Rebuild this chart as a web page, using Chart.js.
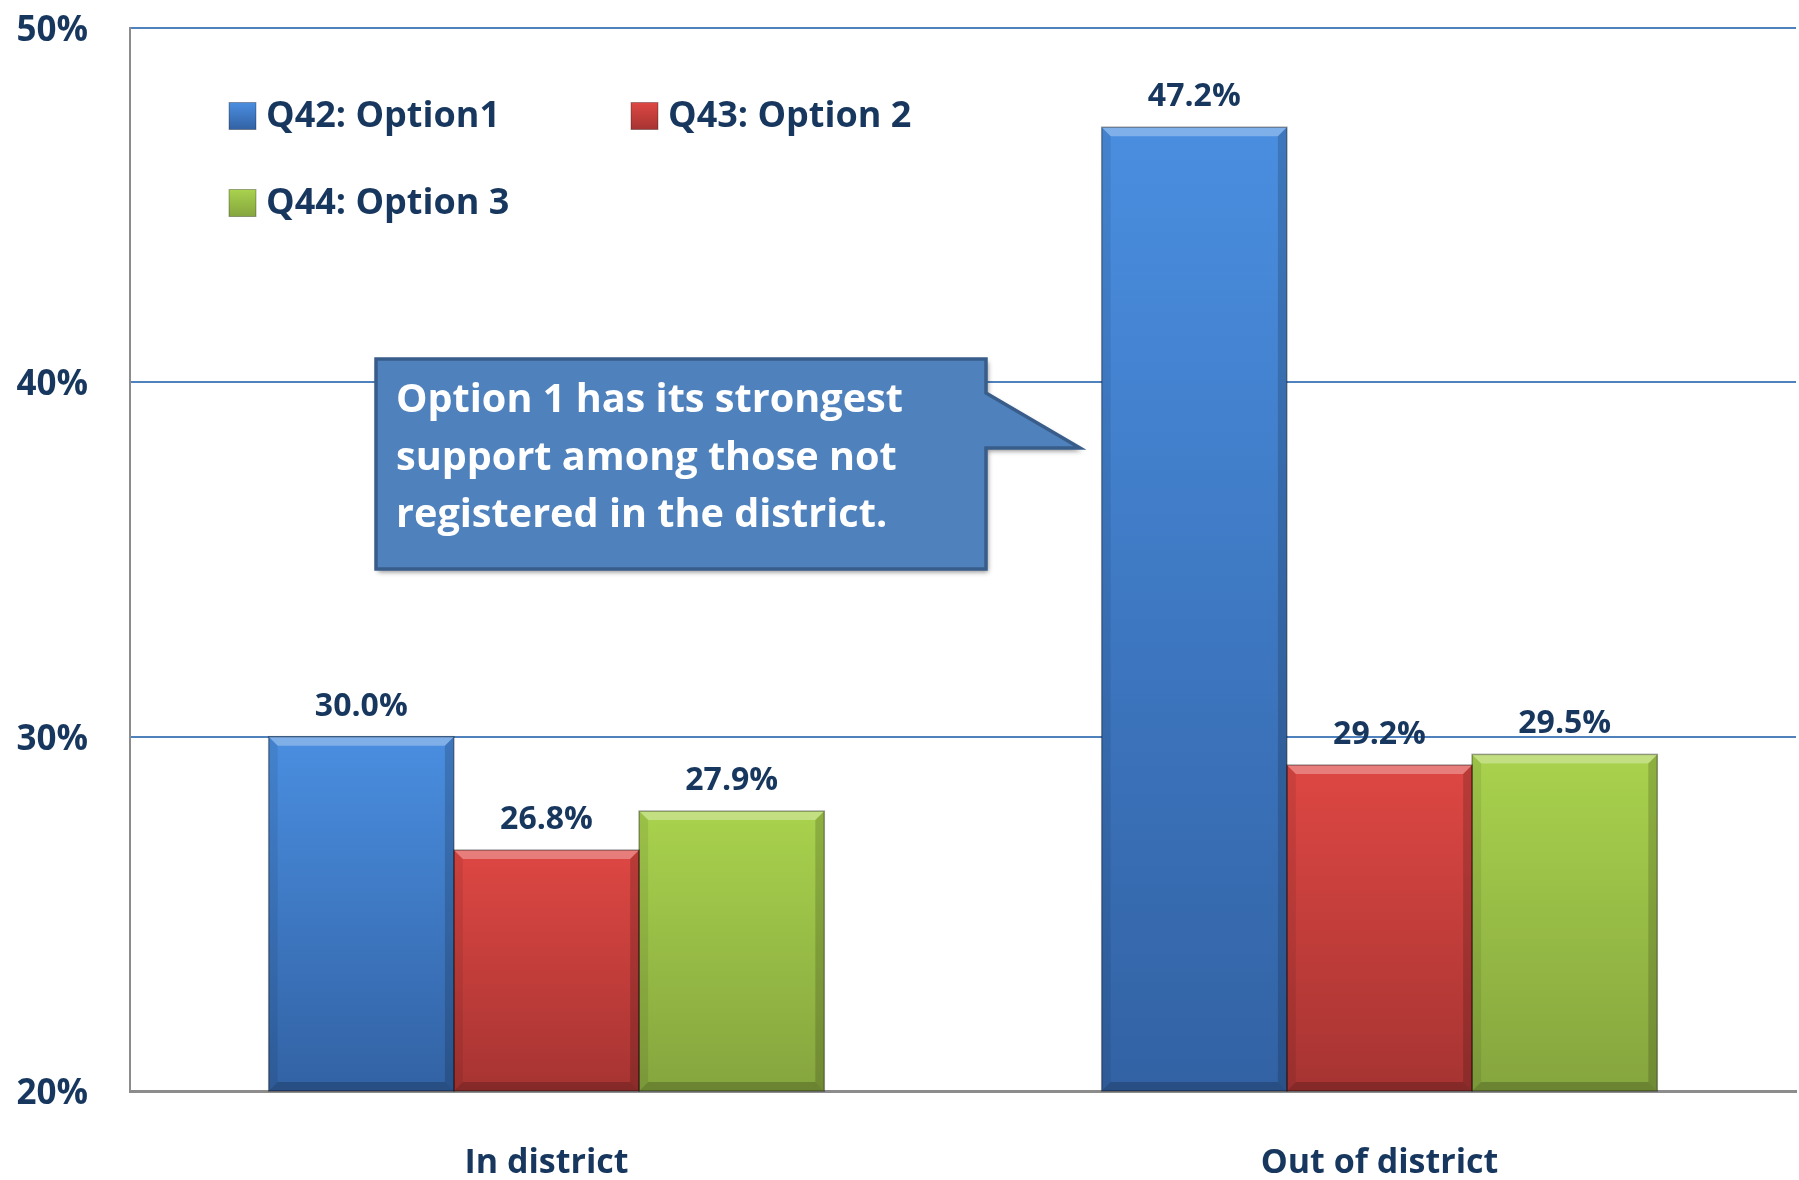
<!DOCTYPE html>
<html>
<head>
<meta charset="utf-8">
<script src="https://cdn.jsdelivr.net/npm/chart.js@4.4.1/dist/chart.umd.min.js"></script>
<style>
  html, body { margin: 0; padding: 0; background: #fff; }
  #wrap { width: 1799px; height: 1180px; position: relative; }
</style>
</head>
<body>
<div id="wrap"><canvas id="chart"></canvas></div>
<script>
// ---- data ----
const categories = ['In district', 'Out of district'];
const seriesLabels = ['Q42: Option1', 'Q43: Option 2', 'Q44: Option 3'];
const option1Values = [30.0, 47.2];
const option2Values = [26.8, 29.2];
const option3Values = [27.9, 29.5];
const yTickValues = [20, 30, 40, 50];
const calloutLines = [
    'Option 1 has its strongest',
    'support among those not',
    'registered in the district.'
];

const navy = '#17375e';
const gridBlue = '#4f81bd';
const axisGray = '#8c8c8c';
const fontFamily = '"Open Sans", "DejaVu Sans", sans-serif';

// top -> bottom shade for each series
const seriesShades = [
    ['#4a8ee0', '#3262a4'],
    ['#de4743', '#a63432'],
    ['#a9d24d', '#85a53e']
];

// gradient runs from the top of each bar down to the axis
function barShade(index) {
    return (context) => {
        const chart = context.chart;
        const area = chart.chartArea;
        if (!area || context.raw === undefined) return seriesShades[index][0];
        const top = chart.scales.y.getPixelForValue(context.raw);
        const g = chart.ctx.createLinearGradient(0, top, 0, area.bottom);
        g.addColorStop(0, seriesShades[index][0]);
        g.addColorStop(1, seriesShades[index][1]);
        return g;
    };
}

// bevel edges on each bar, drawn from the bar elements
const bevelPlugin = {
    id: 'bevel',
    afterDatasetsDraw(chart) {
        const ctx = chart.ctx;
        const area = chart.chartArea;
        chart.data.datasets.forEach((ds, i) => {
            chart.getDatasetMeta(i).data.forEach(bar => {
                const left = bar.x - bar.width / 2;
                const right = bar.x + bar.width / 2;
                const top = bar.y;
                const bottom = Math.min(bar.base, area.bottom);
                const b = 9;
                ctx.save();
                // top bevel
                ctx.fillStyle = 'rgba(255,255,255,0.3)';
                ctx.beginPath();
                ctx.moveTo(left, top); ctx.lineTo(right, top);
                ctx.lineTo(right - b, top + b); ctx.lineTo(left + b, top + b);
                ctx.closePath(); ctx.fill();
                // side bevels
                ctx.fillStyle = 'rgba(0,0,0,0.08)';
                ctx.beginPath();
                ctx.moveTo(left, top); ctx.lineTo(left + b, top + b);
                ctx.lineTo(left + b, bottom - b); ctx.lineTo(left, bottom);
                ctx.closePath(); ctx.fill();
                ctx.fillStyle = 'rgba(0,0,0,0.16)';
                ctx.beginPath();
                ctx.moveTo(right, top); ctx.lineTo(right - b, top + b);
                ctx.lineTo(right - b, bottom - b); ctx.lineTo(right, bottom);
                ctx.closePath(); ctx.fill();
                // bottom bevel
                ctx.fillStyle = 'rgba(0,0,0,0.2)';
                ctx.beginPath();
                ctx.moveTo(left, bottom); ctx.lineTo(right, bottom);
                ctx.lineTo(right - b, bottom - b); ctx.lineTo(left + b, bottom - b);
                ctx.closePath(); ctx.fill();
                // outline
                ctx.strokeStyle = 'rgba(0,0,0,0.35)';
                ctx.lineWidth = 1.5;
                ctx.strokeRect(left, top, right - left, bottom - top);
                ctx.restore();
            });
        });
    }
};

// value labels above bars
const valueLabelPlugin = {
    id: 'valueLabels',
    afterDatasetsDraw(chart) {
        const ctx = chart.ctx;
        ctx.save();
        ctx.font = `bold 32px ${fontFamily}`;
        ctx.fillStyle = navy;
        ctx.textAlign = 'center';
        ctx.textBaseline = 'alphabetic';
        chart.data.datasets.forEach((ds, i) => {
            chart.getDatasetMeta(i).data.forEach((bar, j) => {
                ctx.fillText(ds.data[j].toFixed(1) + '%', bar.x, bar.y - 21);
            });
        });
        ctx.restore();
    }
};

// legend inside the plot, two columns
const insideLegendPlugin = {
    id: 'insideLegend',
    afterDraw(chart) {
        const ctx = chart.ctx;
        const area = chart.chartArea;
        const cols = [area.left + 99, area.left + 501];
        const rows = [area.top + 88, area.top + 175];
        const box = 27;
        ctx.save();
        ctx.font = `bold 36px ${fontFamily}`;
        ctx.textBaseline = 'middle';
        ctx.textAlign = 'left';
        chart.data.datasets.forEach((ds, i) => {
            const x = cols[i % 2];
            const y = rows[Math.floor(i / 2)];
            const g = ctx.createLinearGradient(0, y - box / 2, 0, y + box / 2);
            g.addColorStop(0, seriesShades[i][0]);
            g.addColorStop(1, seriesShades[i][1]);
            ctx.fillStyle = g;
            ctx.fillRect(x, y - box / 2, box, box);
            ctx.strokeStyle = 'rgba(0,0,0,0.3)';
            ctx.lineWidth = 1;
            ctx.strokeRect(x, y - box / 2, box, box);
            ctx.fillStyle = navy;
            ctx.fillText(ds.label, x + box + 10, y + 1);
        });
        ctx.restore();
    }
};

// callout box with pointer
const calloutPlugin = {
    id: 'callout',
    afterDraw(chart) {
        const ctx = chart.ctx;
        const L = 376, R = 986, T = 359, B = 569;
        const tipX = 1080, tipY = 448, joinY = 393;
        ctx.save();
        ctx.beginPath();
        ctx.moveTo(L, T);
        ctx.lineTo(R, T);
        ctx.lineTo(R, joinY);
        ctx.lineTo(tipX, tipY);
        ctx.lineTo(R, tipY);
        ctx.lineTo(R, B);
        ctx.lineTo(L, B);
        ctx.closePath();
        ctx.shadowColor = 'rgba(0,0,0,0.45)';
        ctx.shadowBlur = 5;
        ctx.shadowOffsetX = 2;
        ctx.shadowOffsetY = 3;
        ctx.fillStyle = '#4f81bd';
        ctx.fill();
        ctx.shadowColor = 'transparent';
        ctx.strokeStyle = '#385d8a';
        ctx.lineWidth = 3.5;
        ctx.lineJoin = 'miter';
        ctx.stroke();

        ctx.fillStyle = '#ffffff';
        ctx.textAlign = 'left';
        ctx.textBaseline = 'middle';
        let size = 36;
        ctx.font = `bold ${size}px ${fontFamily}`;
        const w = ctx.measureText(calloutLines[0]).width;
        size = size * 507 / w;
        ctx.font = `bold ${size}px ${fontFamily}`;
        calloutLines.forEach((line, k) => {
            ctx.fillText(line, L + 20, 401 + k * 57.5);
        });
        ctx.restore();
    }
};

const ctx = document.getElementById('chart').getContext('2d');
new Chart(ctx, {
    type: 'bar',
    data: {
        labels: categories,
        datasets: [
            { label: seriesLabels[0], data: option1Values, backgroundColor: barShade(0) },
            { label: seriesLabels[1], data: option2Values, backgroundColor: barShade(1) },
            { label: seriesLabels[2], data: option3Values, backgroundColor: barShade(2) }
        ]
    },
    options: {
        responsive: true,
        maintainAspectRatio: false,
        animation: false,
        layout: { padding: { top: 28, right: 3, left: 0, bottom: 0 } },
        datasets: {
            bar: { categoryPercentage: 0.667, barPercentage: 1.0, borderWidth: 0 }
        },
        scales: {
            x: {
                afterFit: (s) => { s.height = 89; },
                grid: { display: false, drawTicks: false },
                border: { display: true, color: axisGray, width: 3 },
                ticks: {
                    color: navy,
                    padding: 52,
                    font: { family: fontFamily, size: 34, weight: 'bold' }
                }
            },
            y: {
                min: 20,
                max: 50,
                afterFit: (s) => { s.width = 130; s.paddingTop = 0; s.paddingBottom = 0; },
                afterBuildTicks: (s) => { s.ticks = yTickValues.map(v => ({ value: v })); },
                grid: {
                    drawTicks: false,
                    lineWidth: 2,
                    color: (c) => (c.tick && c.tick.value === 20) ? 'rgba(0,0,0,0)' : gridBlue
                },
                border: { display: true, color: axisGray, width: 2 },
                ticks: {
                    color: navy,
                    padding: 42,
                    labelOffset: 3,
                    font: { family: fontFamily, size: 35, weight: 'bold' },
                    callback: (v) => v + '%'
                }
            }
        },
        plugins: {
            legend: { display: false },
            tooltip: { enabled: false }
        }
    },
    plugins: [bevelPlugin, valueLabelPlugin, insideLegendPlugin, calloutPlugin]
});
</script>
</body>
</html>
